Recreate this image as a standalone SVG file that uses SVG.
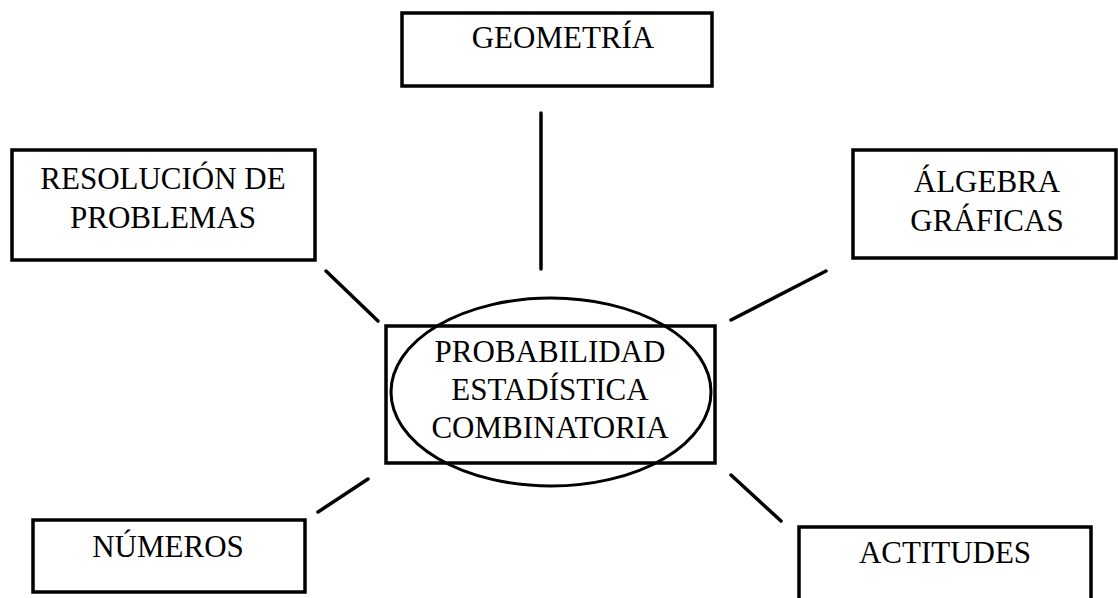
<svg xmlns="http://www.w3.org/2000/svg" width="1118" height="598" viewBox="0 0 1118 598">
  <style>
    .box { fill: #ffffff; stroke: #000000; stroke-width: 3.5; }
    .oval { fill: none; stroke: #000000; stroke-width: 3; }
    .link { stroke: #000000; stroke-width: 3.5; stroke-linecap: round; fill: none; }
    .label { font-family: "Liberation Serif", "Times New Roman", serif; font-size: 31px; fill: #000000; text-anchor: middle; }
  </style>
  <rect width="1118" height="598" fill="#ffffff"/>

  <!-- connectors radiating from the central topic -->
  <g id="connectors">
    <line class="link" x1="541" y1="113" x2="541" y2="269"/>
    <line class="link" x1="326" y1="271" x2="378" y2="321"/>
    <line class="link" x1="731" y1="320" x2="826" y2="271"/>
    <line class="link" x1="318" y1="512" x2="368" y2="479"/>
    <line class="link" x1="731" y1="475" x2="781" y2="521"/>
  </g>

  <g id="node-geometria">
    <rect class="box" x="402" y="13" width="310" height="73"/>
    <text class="label" x="563" y="48">GEOMETRÍA</text>
  </g>

  <g id="node-resolucion">
    <rect class="box" x="12" y="150" width="303" height="110"/>
    <text class="label" x="163" y="189">RESOLUCIÓN DE</text>
    <text class="label" x="163" y="228">PROBLEMAS</text>
  </g>

  <g id="node-algebra">
    <rect class="box" x="853" y="150" width="263" height="108"/>
    <text class="label" x="987" y="192">ÁLGEBRA</text>
    <text class="label" x="987" y="231">GRÁFICAS</text>
  </g>

  <g id="node-central">
    <rect class="box" x="386" y="326" width="329" height="137" stroke-width="4"/>
    <ellipse class="oval" cx="551" cy="392" rx="160" ry="94"/>
    <text class="label" x="550" y="362">PROBABILIDAD</text>
    <text class="label" x="550" y="400">ESTADÍSTICA</text>
    <text class="label" x="550" y="438">COMBINATORIA</text>
  </g>

  <g id="node-numeros">
    <rect class="box" x="33" y="520" width="272" height="72"/>
    <text class="label" x="168" y="557">NÚMEROS</text>
  </g>

  <g id="node-actitudes">
    <rect class="box" x="799" y="527" width="292" height="90"/>
    <text class="label" x="945" y="563">ACTITUDES</text>
  </g>
</svg>
